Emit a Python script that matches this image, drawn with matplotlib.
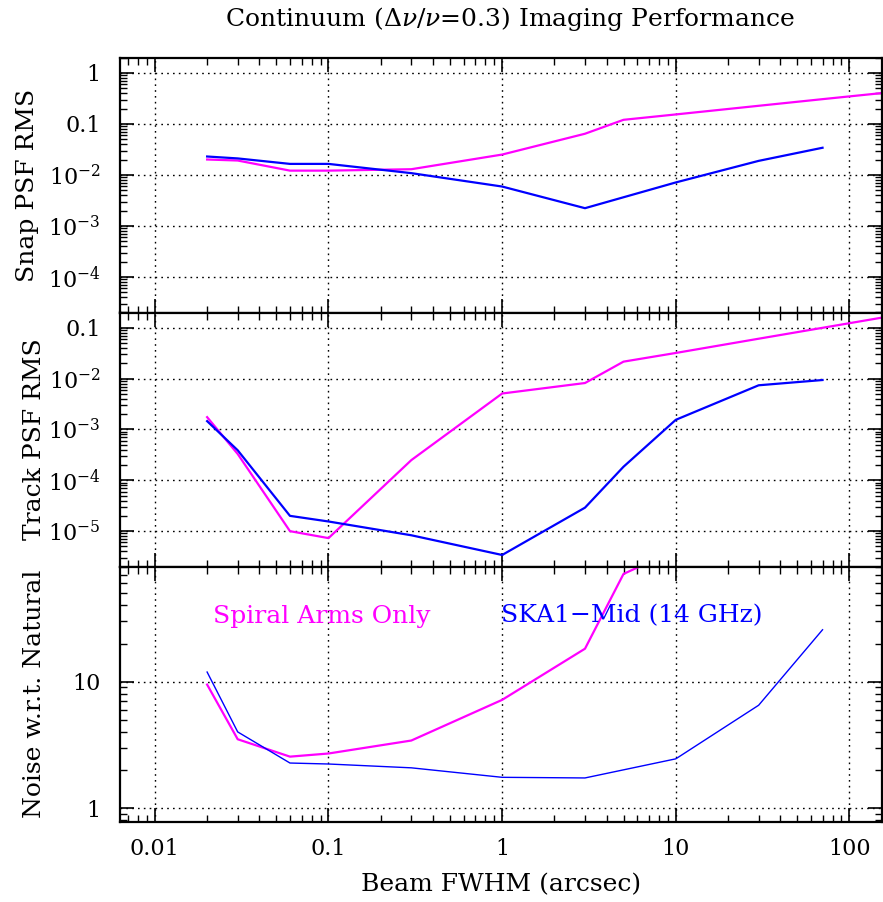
import matplotlib
matplotlib.use("Agg")
import matplotlib.pyplot as plt
from matplotlib.ticker import LogLocator, FixedLocator, FixedFormatter, NullFormatter

plt.rcParams['font.family'] = ['DejaVu Serif']
plt.rcParams['mathtext.fontset'] = 'dejavuserif'

# ---- data ----
beam_snap_ska = [0.02, 0.03, 0.06, 0.1, 0.3, 1, 3, 10, 30, 70]
snap_ska = [0.0229, 0.021, 0.0164, 0.0164, 0.0108, 0.0059, 0.00222, 0.0071, 0.0188, 0.034]
beam_snap_spiral = [0.02, 0.03, 0.06, 0.1, 0.3, 1, 3, 5, 10, 30, 70, 200]
snap_spiral = [0.020, 0.0191, 0.0121, 0.0121, 0.0129, 0.025, 0.064, 0.12, 0.153, 0.226, 0.305, 0.44]

beam_track_ska = [0.02, 0.03, 0.06, 0.1, 0.3, 1, 3, 5, 10, 30, 70]
track_ska = [1.46e-3, 3.9e-4, 2.0e-5, 1.55e-5, 8.3e-6, 3.4e-6, 2.9e-5, 1.85e-4, 1.55e-3, 7.4e-3, 9.4e-3]
beam_track_spiral = [0.02, 0.03, 0.06, 0.1, 0.3, 1, 3, 5, 10, 30, 70, 200]
track_spiral = [1.75e-3, 3.3e-4, 1.0e-5, 7.3e-6, 2.5e-4, 5.1e-3, 8.2e-3, 0.0216, 0.032, 0.061, 0.10, 0.185]

beam_noise_ska = [0.02, 0.03, 0.06, 0.1, 0.3, 1, 3, 10, 30, 70]
noise_ska = [11.9, 4.0, 2.27, 2.23, 2.08, 1.75, 1.73, 2.45, 6.5, 25.7]
beam_noise_spiral = [0.02, 0.03, 0.06, 0.1, 0.3, 1, 3, 5, 10]
noise_spiral = [9.47, 3.5, 2.55, 2.7, 3.42, 7.17, 18.2, 71, 110]

x_ticks = [0.01, 0.1, 1, 10, 100]
x_ticklabels = ['0.01', '0.1', '1', '10', '100']
snap_yticks = [1, 0.1, 1e-2, 1e-3, 1e-4]
snap_yticklabels = ['1', '0.1', r'$10^{-2}$', r'$10^{-3}$', r'$10^{-4}$']
track_yticks = [0.1, 1e-2, 1e-3, 1e-4, 1e-5]
track_yticklabels = ['0.1', r'$10^{-2}$', r'$10^{-3}$', r'$10^{-4}$', r'$10^{-5}$']
noise_yticks = [1, 10]
noise_yticklabels = ['1', '10']

MAG = '#ff00ff'
BLU = '#0000ff'

W, H = 883, 902
fig = plt.figure(figsize=(W / 100, H / 100), dpi=100)

left = 120 / W
right = 882 / W
bounds = [57.5, 312.5, 566.7, 821.7]
axes = []
for i in range(3):
    top = bounds[i]
    bot = bounds[i + 1]
    ax = fig.add_axes([left, 1 - bot / H, right - left, (bot - top) / H])
    axes.append(ax)

ylims = [(2.0e-5, 2.0), (2.0e-6, 0.2), (0.78, 81)]
yticks = [snap_yticks, track_yticks, noise_yticks]
ylabels_t = [snap_yticklabels, track_yticklabels, noise_yticklabels]
names = ['Snap PSF RMS', 'Track PSF RMS', 'Noise w.r.t. Natural']
label_x = [28, 35, 35]

for i, ax in enumerate(axes):
    ax.set_xscale('log')
    ax.set_yscale('log')
    ax.set_xlim(0.0063, 154)
    ax.set_ylim(*ylims[i])
    ax.xaxis.set_major_locator(FixedLocator(x_ticks))
    ax.xaxis.set_minor_locator(LogLocator(base=10, subs=range(2, 10), numticks=20))
    ax.yaxis.set_major_locator(FixedLocator(yticks[i]))
    ax.yaxis.set_major_formatter(FixedFormatter(ylabels_t[i]))
    ax.yaxis.set_minor_locator(LogLocator(base=10, subs=range(2, 10), numticks=20))
    ax.yaxis.set_minor_formatter(NullFormatter())
    ax.xaxis.set_minor_formatter(NullFormatter())
    if i == 2:
        ax.xaxis.set_major_formatter(FixedFormatter(x_ticklabels))
    else:
        ax.xaxis.set_major_formatter(NullFormatter())
    ax.tick_params(which='both', direction='in', top=True, right=True, color='black')
    ax.tick_params(which='major', length=10, width=1.2, labelsize=16)
    ax.tick_params(axis='y', which='major', pad=14)
    ax.tick_params(axis='x', which='major', pad=12)
    ax.tick_params(which='minor', length=5, width=1.0)
    for s in ax.spines.values():
        s.set_linewidth(1.6)
    ax.grid(True, which='major', color='black', linestyle=(0, (1.2, 3)), linewidth=1.0)
    ax.set_ylabel(names[i], fontsize=18)
    ax.yaxis.label.set_verticalalignment('center')
    ax.yaxis.set_label_coords((label_x[i] - 120) / 762, 0.5)

ax1, ax2, ax3 = axes
ax1.plot(beam_snap_spiral, snap_spiral, color=MAG, lw=1.6)
ax1.plot(beam_snap_ska, snap_ska, color=BLU, lw=1.6)
ax2.plot(beam_track_spiral, track_spiral, color=MAG, lw=1.6)
ax2.plot(beam_track_ska, track_ska, color=BLU, lw=1.6)
ax3.plot(beam_noise_spiral, noise_spiral, color=MAG, lw=1.6)
ax3.plot(beam_noise_ska, noise_ska, color=BLU, lw=1.0)

ax3.text(0.0215, 33, 'Spiral Arms Only', color=MAG, fontsize=18, va='center', ha='left')
ax3.text(0.98, 33, 'SKA1\u2212Mid (14 GHz)', color=BLU, fontsize=18, va='center', ha='left')

ax3.set_xlabel('Beam FWHM (arcsec)', fontsize=18)
ax3.xaxis.label.set_verticalalignment('center')
ax3.xaxis.set_label_coords(0.5, -(885 - 821.7) / 254.9)
fig.text(510 / W, 1 - 19 / H, r'Continuum ($\Delta\nu/\nu$=0.3) Imaging Performance',
         fontsize=18, ha='center', va='center')

fig.savefig('out.png', dpi=100)
